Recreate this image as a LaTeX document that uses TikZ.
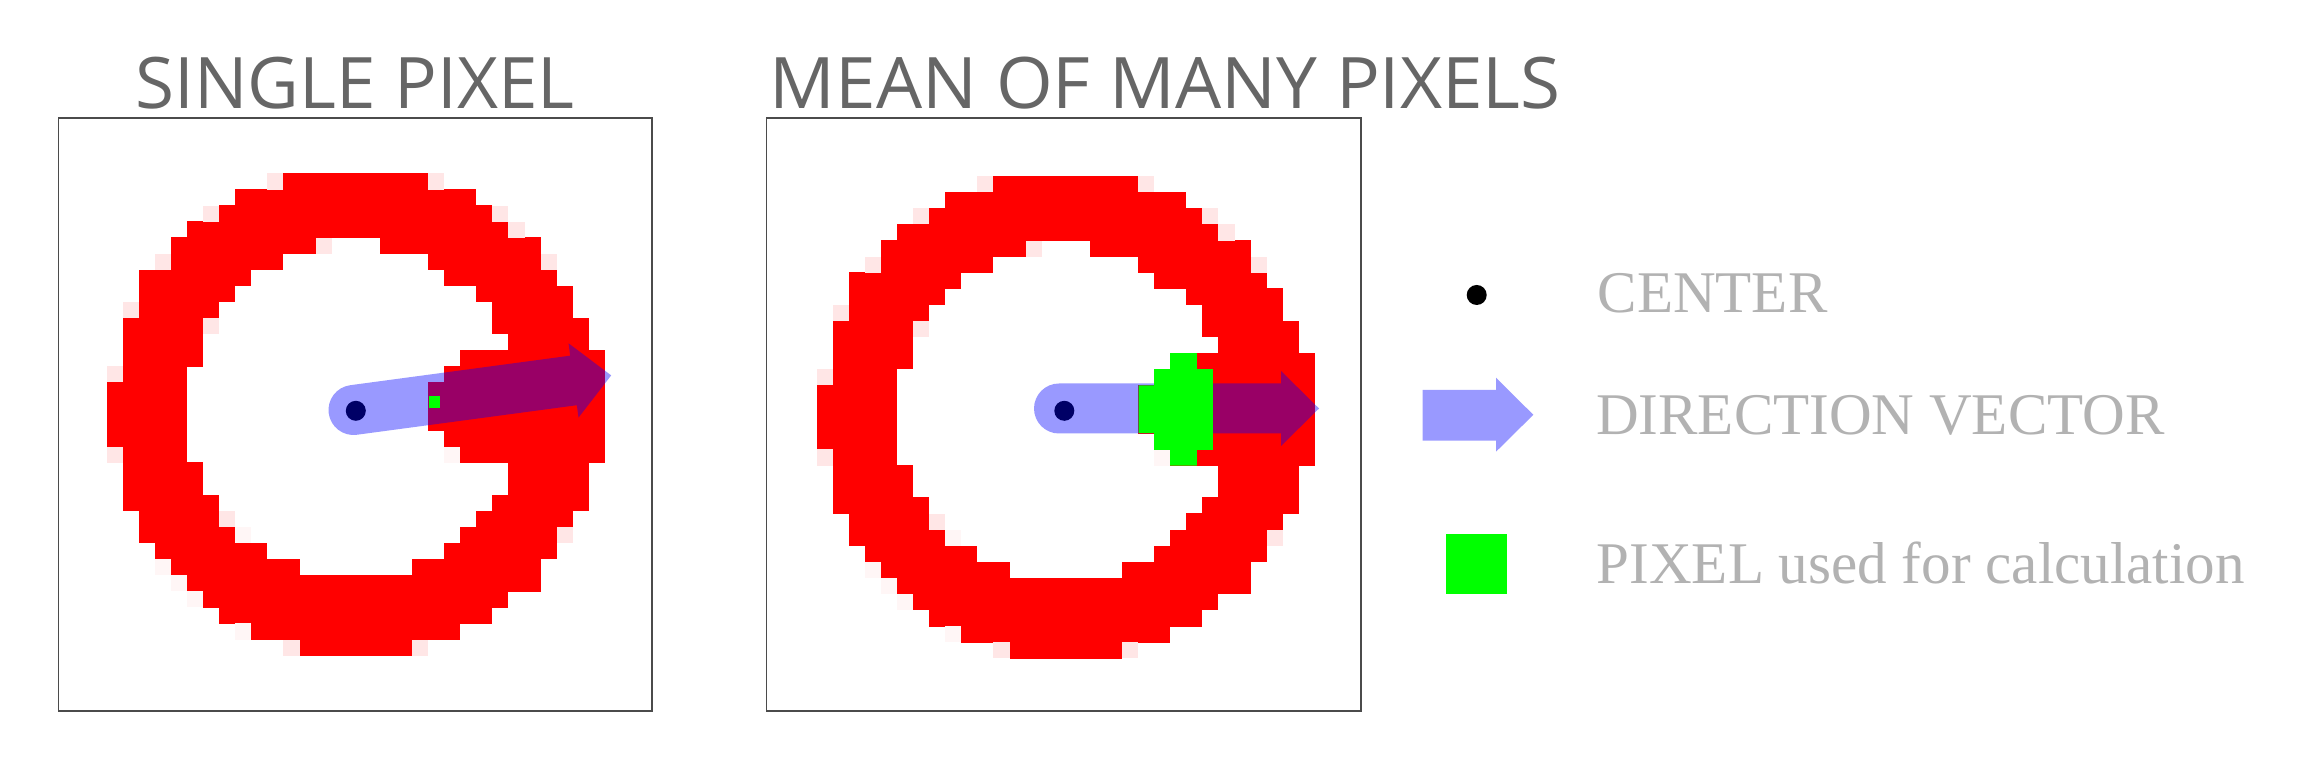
\documentclass[tikz,border=0pt]{standalone}
\usepackage{fontspec}
\newfontfamily\titlefont{Open Sans}
\newfontfamily\legendfont{Liberation Serif}
\usetikzlibrary{positioning}

\definecolor{titlegray}{RGB}{102,102,102}
\definecolor{legendgray}{RGB}{178,178,178}
\definecolor{framegray}{RGB}{75,75,75}
\definecolor{ringred}{RGB}{255,0,0}
\definecolor{ringpink}{RGB}{255,230,230}
\definecolor{ringfaint}{RGB}{255,246,246}
\definecolor{pixgreen}{RGB}{0,255,0}

% one image pixel of the ring
\def\cs{16.07}

% the pixelated ring, top left corner at (#1,#2)
\newcommand{\pixring}[2]{%
  \foreach \r/\a/\b in {0/11/19, 1/8/22, 2/7/23, 3/5/24, 4/4/12, 4/17/26,
      5/4/10, 5/20/26, 6/2/8, 6/21/27, 7/2/7, 7/23/28, 8/2/6, 8/24/28,
      9/1/5, 9/24/29, 10/1/5, 10/25/29, 11/1/5, 11/22/30, 12/1/4, 12/21/30,
      13/0/4, 13/20/30, 14/0/4, 14/20/30, 15/0/4, 15/20/30, 16/0/4, 16/21/30,
      17/1/4, 17/22/30, 18/1/5, 18/25/29, 19/1/5, 19/25/29, 20/1/6, 20/24/29,
      21/2/6, 21/23/28, 22/2/7, 22/22/27, 23/3/9, 23/21/27, 24/4/11, 24/19/26,
      25/5/26, 26/6/24, 27/7/23, 28/9/21, 29/12/18}
    \fill[ringred] ({#1+\a*\cs},{#2+\r*\cs-0.3}) rectangle ({#1+(\b+1)*\cs},{#2+(\r+1)*\cs+0.3});
  \foreach \r/\a in {0/10, 0/20, 2/6, 2/24, 3/25, 4/13, 5/3, 5/27, 8/1, 9/6,
      12/0, 17/0, 21/7, 22/28, 29/11, 29/19}
    \fill[ringpink] ({#1+\a*\cs},{#2+\r*\cs}) rectangle +(\cs,\cs);
  \foreach \r/\a in {17/21, 22/8, 24/3, 25/4, 26/5, 28/8}
    \fill[ringfaint] ({#1+\a*\cs},{#2+\r*\cs}) rectangle +(\cs,\cs);
}

% direction vector with round tail at (#1,#2), turned by #3
\newcommand{\dirvec}[3]{%
  \fill[vecblue, shift={(#1,#2)}, rotate=#3] (0,-25) -- (222,-25) -- (222,-37.5)
    -- (260,0) -- (222,37.5) -- (222,25) -- (0,25)
    arc[start angle=90, end angle=270, radius=25] -- cycle;
}

\begin{document}
\begin{tikzpicture}[x=0.01cm, y=-0.01cm,
    frame/.style={draw=framegray, line width=0.5pt},
    heading/.style={inner sep=0, text=titlegray, font=\titlefont\fontsize{20.2}{24}\selectfont},
    legendtext/.style={inner sep=0, anchor=base west, text=legendgray, font=\legendfont\fontsize{16.8}{20}\selectfont},
    centerdot/.style={circle, fill=black, inner sep=0, minimum size=0.2cm},
    vecblue/.style={fill=blue, fill opacity=0.4},
    usedpix/.style={fill=pixgreen}]
    \useasboundingbox[fill=white] (0,0) rectangle (2304,768);

    % titles
    \node[heading, anchor=base] (title1) at (355,109) {SINGLE PIXEL};
    \node[heading, anchor=base west, xscale=1.026] (title2) at (769,109) {MEAN OF MANY PIXELS};

    % left: single pixel
    \draw[frame] (58.6,117.9) rectangle (652.3,710.9);
    \pixring{106.7}{173.5}
    \node[centerdot] (c1) at (355.8,410.8) {};
    \dirvec{353.5}{410}{7.65}
    \fill[usedpix] (428.6,396.1) rectangle (440,408);

    % right: mean of many pixels
    \draw[frame] (766.6,117.9) rectangle (1361.1,710.9);
    \pixring{816.7}{176.3}
    \node[centerdot] (c2) at (1064.3,410.8) {};
    \dirvec{1059}{408.5}{0}
    \fill[usedpix] (1170.2,353.2) -- (1196.8,353.2) -- (1196.8,369.1) -- (1212.9,369.1)
      -- (1212.9,449.8) -- (1196.8,449.8) -- (1196.8,465.7) -- (1170.2,465.7)
      -- (1170.2,449.8) -- (1154.2,449.8) -- (1154.2,433.1) -- (1138.6,433.1)
      -- (1138.6,385.4) -- (1154.2,385.4) -- (1154.2,369.1) -- (1170.2,369.1) -- cycle;

    % legend
    \node[centerdot] (keydot) at (1476.7,295) {};
    \node[legendtext] (keydottext) at (1597,312.3) {CENTER};
    \fill[vecblue] (1422.7,390) -- (1496,390) -- (1496,377.7) -- (1533.3,414.8)
      -- (1496,451.7) -- (1496,440.7) -- (1422.7,440.7) -- cycle;
    \node[legendtext] (keyvectext) at (1595.5,435) {DIRECTION VECTOR};
    \node[usedpix, inner sep=0, minimum size=0.604cm] (keypix) at (1476.4,564.2) {};
    \node[legendtext] (keypixtext) at (1596,583.5) {PIXEL used for calculation};
\end{tikzpicture}
\end{document}
